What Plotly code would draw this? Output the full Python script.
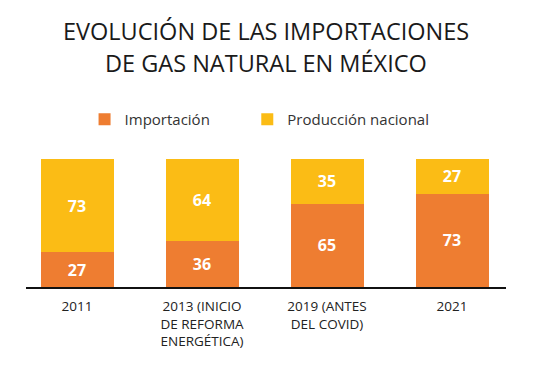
import plotly.graph_objects as go

categories = ["2011", "2013", "2019", "2021"]
tick_labels = ["2011", "2013 (INICIO<br>DE REFORMA<br>ENERGÉTICA)", "2019 (ANTES<br>DEL COVID)", "2021"]
importacion = [27, 36, 65, 73]
produccion = [73, 64, 35, 27]

ORANGE = "#EE7D31"
YELLOW = "#FBBC15"
FONT = "Open Sans"

# page body has an 8px default margin, so the figure is sized to fit the window
W, H = 527, 364
ML, MR, MT, MB = 18, 29, 151, 85
PH = H - MT - MB


def py(yfig):
    return 1 + (MT - yfig) / PH


fig = go.Figure()
fig.add_trace(go.Bar(
    x=categories, y=importacion, name="Importación",
    marker=dict(color=ORANGE, line=dict(width=0)),
    text=importacion, textposition="inside", insidetextanchor="middle",
    textangle=0, constraintext="none",
    textfont=dict(color="white", size=16, family=FONT, weight="bold"),
    width=0.584, legend="legend",
))
fig.add_trace(go.Bar(
    x=categories, y=produccion, name="Producción nacional",
    marker=dict(color=YELLOW, line=dict(width=0)),
    text=produccion, textposition="inside", insidetextanchor="middle",
    textangle=0, constraintext="none",
    textfont=dict(color="white", size=16, family=FONT, weight="bold"),
    width=0.584, legend="legend2",
))

leg_common = dict(
    orientation="h", yanchor="middle", xanchor="left",
    font=dict(size=15, color="#333333", family=FONT),
    bgcolor="rgba(0,0,0,0)",
)

fig.update_layout(
    width=W, height=H,
    barmode="stack",
    margin=dict(l=ML, r=MR, t=MT, b=MB),
    paper_bgcolor="white", plot_bgcolor="white",
    font=dict(family=FONT, color="#222222"),
    showlegend=True,
    legend=dict(x=0.122, y=py(111.5), **leg_common),
    legend2=dict(x=0.461, y=py(111.5), **leg_common),
    xaxis=dict(
        type="category", range=[-0.408, 3.432],
        tickvals=categories, ticktext=tick_labels,
        showline=True, linecolor="#111111", linewidth=2,
        showgrid=False, zeroline=False, ticks="",
        ticklabelstandoff=6,
        tickfont=dict(size=13.5, color="#222222", family=FONT),
        fixedrange=True,
    ),
    yaxis=dict(range=[0, 100], visible=False, fixedrange=True),
    annotations=[
        dict(text="EVOLUCIÓN DE LAS IMPORTACIONES",
             xref="paper", yref="paper", x=0.5, xanchor="center",
             y=py(23), yanchor="middle", showarrow=False,
             font=dict(size=23.5, color="#1a1a1a", family=FONT)),
        dict(text="DE GAS NATURAL EN MÉXICO",
             xref="paper", yref="paper", x=0.5, xanchor="center",
             y=py(55), yanchor="middle", showarrow=False,
             font=dict(size=23.5, color="#1a1a1a", family=FONT)),
    ],
)

fig.write_html("out.html")
